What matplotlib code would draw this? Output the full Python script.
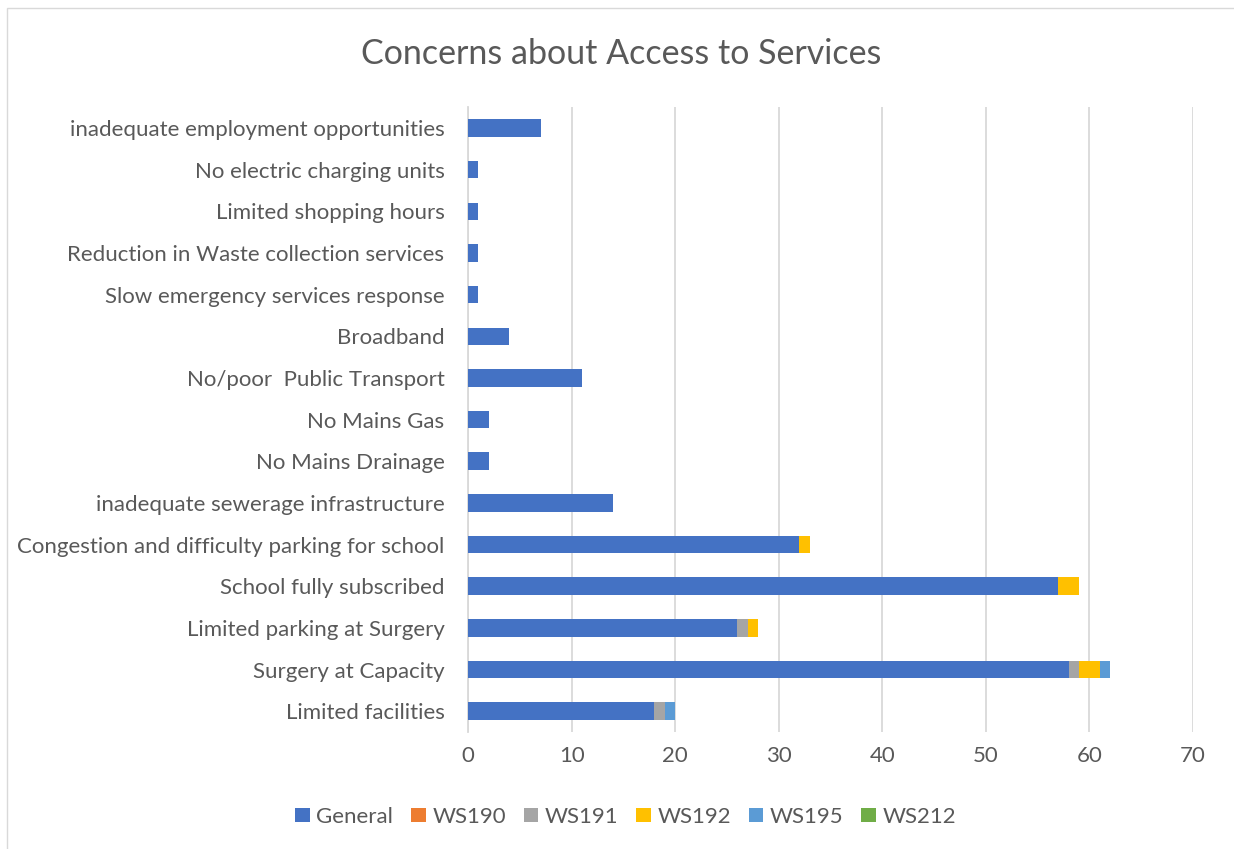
import matplotlib
matplotlib.use("Agg")
import matplotlib.pyplot as plt
import numpy as np
from matplotlib.patches import Rectangle

plt.rcParams['font.family'] = ['Lato', 'DejaVu Sans']

categories = [
    "Limited facilities",
    "Surgery at Capacity",
    "Limited parking at Surgery",
    "School fully subscribed",
    "Congestion and difficulty parking for school",
    "inadequate sewerage infrastructure",
    "No Mains Drainage",
    "No Mains Gas",
    "No/poor  Public Transport",
    "Broadband",
    "Slow emergency services response",
    "Reduction in Waste collection services",
    "Limited shopping hours",
    "No electric charging units",
    "inadequate employment opportunities",
]
general = [18, 58, 26, 57, 32, 14, 2, 2, 11, 4, 1, 1, 1, 1, 7]
ws190 = [0] * 15
ws191 = [1, 1, 1, 0, 0, 0, 0, 0, 0, 0, 0, 0, 0, 0, 0]
ws192 = [0, 2, 1, 2, 1, 0, 0, 0, 0, 0, 0, 0, 0, 0, 0]
ws195 = [1, 1, 0, 0, 0, 0, 0, 0, 0, 0, 0, 0, 0, 0, 0]
ws212 = [0] * 15

series = [
    ("General", general, "#4472C4"),
    ("WS190", ws190, "#ED7D31"),
    ("WS191", ws191, "#A5A5A5"),
    ("WS192", ws192, "#FFC000"),
    ("WS195", ws195, "#5B9BD5"),
    ("WS212", ws212, "#70AD47"),
]

text_col = "#595959"

fig = plt.figure(figsize=(12.34, 8.49), dpi=100)
ax = fig.add_axes([0.3793, 0.1378, 0.5875, 0.736])

y = np.arange(len(categories))
left = np.zeros(len(categories))
handles = []
for name, vals, col in series:
    vals = np.array(vals, dtype=float)
    b = ax.barh(y, vals, left=left, height=0.42, color=col, label=name, zorder=3)
    handles.append(b)
    left += vals

ax.set_xlim(0, 70)
ax.set_ylim(-0.5, len(categories) - 0.5)
ax.set_xticks(np.arange(0, 71, 10))
ax.set_yticks(y)
ax.set_yticklabels(categories)
ax.tick_params(axis='both', length=0, labelsize=16, colors=text_col)
ax.tick_params(axis='y', pad=17)
ax.tick_params(axis='x', pad=10)
ax.grid(axis='x', color="#D9D9D9", linewidth=1.3, zorder=0)
for s in ["top", "right", "bottom"]:
    ax.spines[s].set_visible(False)
ax.spines["left"].set_color("#D9D9D9")
ax.spines["left"].set_linewidth(1.3)

fig.text(0.503, 0.936, "Concerns about Access to Services", ha="center", va="center",
         fontsize=24.5, color=text_col)

fig.legend(handles=handles, loc="center", bbox_to_anchor=(0.507, 0.038), ncol=6,
           frameon=False, fontsize=16, labelcolor=text_col, handlelength=0.65,
           handleheight=0.65, handletextpad=0.3, columnspacing=0.8)

fig.patches.append(Rectangle((0.006, -0.01), 1.2, 1.0, transform=fig.transFigure,
                             fill=False, edgecolor="#D9D9D9", linewidth=1.0))

fig.savefig("out.png", dpi=100)
